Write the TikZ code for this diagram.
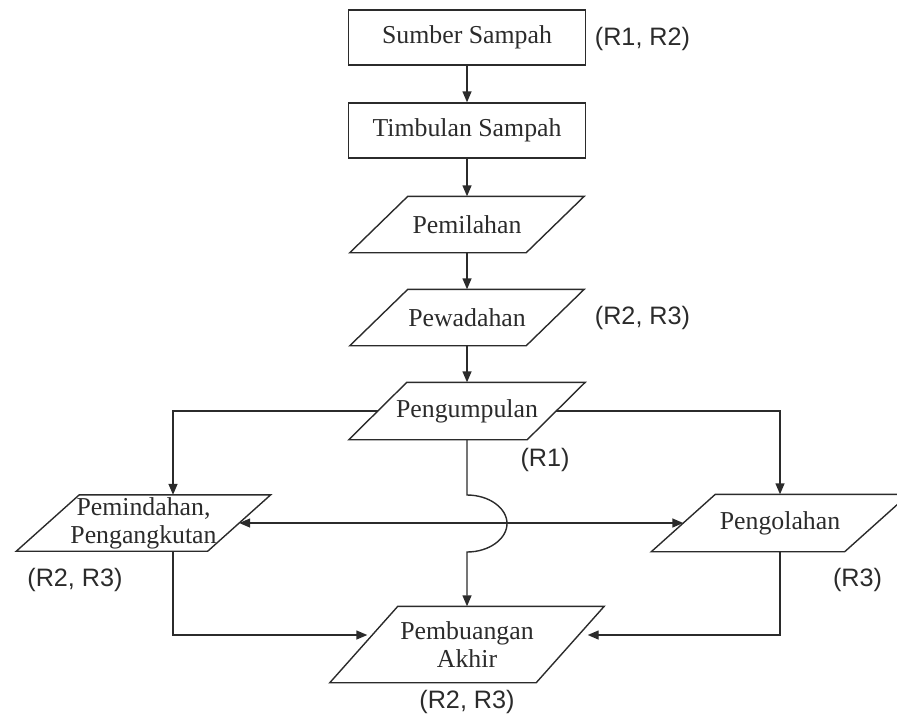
\documentclass[tikz,border=0pt]{standalone}
\usepackage{fontspec}
\setmainfont{Liberation Serif}
\newfontfamily\labelfont{Liberation Sans}
\usetikzlibrary{arrows.meta}
\definecolor{ink}{HTML}{2B2B2B}
\tikzset{
  box/.style={draw, rectangle, minimum width=118.5pt, minimum height=27.5pt, inner sep=0pt,
    font=\fontsize{12.9}{14}\selectfont},
  para/.style={rectangle, inner sep=0pt, align=center,
    font=\fontsize{12.9}{14}\selectfont},
  lbl/.style={inner sep=0pt, font=\labelfont\fontsize{12.6}{14}\selectfont},
  arr/.style={-{Triangle[length=5.5pt,width=4.5pt]}},
  arrtwo/.style={{Triangle[length=5.5pt,width=4.5pt]}-{Triangle[length=5.5pt,width=4.5pt]}}
}
\newcommand\paraframe[2]{\draw ([xshift=#2]#1.north west) -- ([xshift=#2]#1.north east) -- ([xshift=-#2]#1.south east) -- ([xshift=-#2]#1.south west) -- cycle;}
\begin{document}
\begin{tikzpicture}[x=0.5pt,y=-0.5pt,line width=0.7pt,color=ink]
\useasboundingbox (0,0) rectangle (897,722);
% boxes
\node[box] (sumber) at (467,37.5) {Sumber Sampah};
\node[box] (timbulan) at (467,130.5) {Timbulan Sampah};
\node[para, minimum width=87.5pt, minimum height=27.5pt] (pemilahan) at (467,224.5) {Pemilahan};
\node[para, minimum width=87.5pt, minimum height=27.5pt] (pewadahan) at (467,317.5) {Pewadahan};
\node[para, minimum width=88.5pt, minimum height=28pt] (pengumpulan) at (467,411) {Pengumpulan};
\node[para, minimum width=95pt, minimum height=27.5pt] (pemindahan) at (143.5,523) {Pemindahan,\\Pengangkutan};
\node[para, minimum width=96pt, minimum height=28pt] (pengolahan) at (780,523) {Pengolahan};
\node[para, minimum width=102.5pt, minimum height=37.5pt] (pembuangan) at (467,644.5) {Pembuangan\\Akhir};
\paraframe{pemilahan}{14.5pt}
\paraframe{pewadahan}{14.5pt}
\paraframe{pengumpulan}{14.5pt}
\paraframe{pemindahan}{15.75pt}
\paraframe{pengolahan}{16pt}
\paraframe{pembuangan}{17pt}
% labels
\node[lbl] (l1) at (642.5,39) {(R1, R2)};
\node[lbl] (l2) at (642.5,318) {(R2, R3)};
\node[lbl] (l3) at (545,460) {(R1)};
\node[lbl] (l4) at (75,580) {(R2, R3)};
\node[lbl] (l5) at (857.5,580) {(R3)};
\node[lbl] (l6) at (467,702) {(R2, R3)};
% connectors
\draw[arr] (sumber) -- (timbulan);
\draw[arr] (timbulan) -- (pemilahan);
\draw[arr] (pemilahan) -- (pewadahan);
\draw[arr] (pewadahan) -- (pengumpulan);
\draw[arr] (pengumpulan.west) -| ([xshift=14.75pt]pemindahan.north);
\draw[arr] (pengumpulan.east) -| (pengolahan.north);
\draw[arrtwo] (pemindahan.east) -- (pengolahan.west);
\draw[arr] (pengumpulan.south) -- (467,495)
  .. controls (489,495) and (507,508) .. (507,523.5)
  .. controls (507,539) and (489,552) .. (467,552)
  -- (pembuangan.north);
\draw[arr] ([xshift=14.75pt]pemindahan.south) |- ([xshift=1.75pt,yshift=4.75pt]pembuangan.west);
\draw[arr] (pengolahan.south) |- ([xshift=8.75pt,yshift=4.75pt]pembuangan.east);
\end{tikzpicture}
\end{document}
